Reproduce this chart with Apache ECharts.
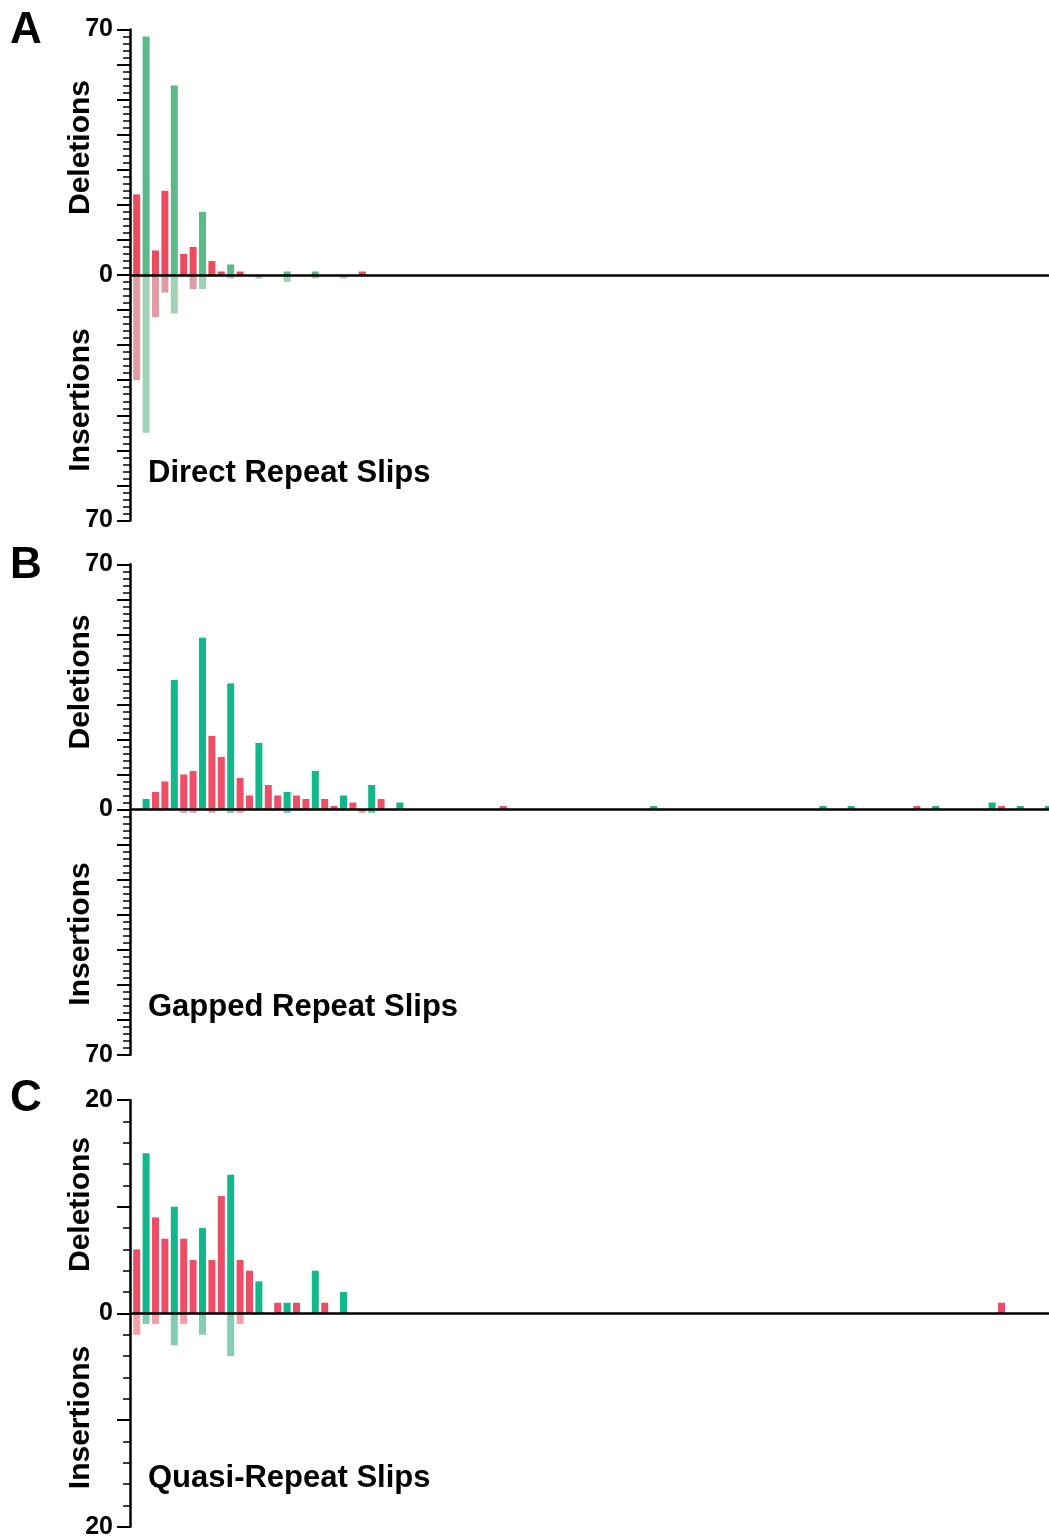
<!DOCTYPE html>
<html>
<head>
<meta charset="utf-8">
<script src="https://cdn.jsdelivr.net/npm/echarts@6/dist/echarts.min.js"></script>
<style>
  html, body { margin: 0; padding: 0; background: #fff; }
  #main { width: 1049px; height: 1539px; }
</style>
</head>
<body>
<div id="main"></div>
<script>
// slip length categories (2..101 nt), labels are not shown
const categories = [];
for (let n = 2; n <= 101; n++) categories.push(String(n));

// A: direct repeat slips
const directDeletions = [
  23, 68, 7, 24, 54, 6, 8, 18, 4, 1,
  3, 1, 0, 0, 0, 0, 1, 0, 0, 1,
  0, 0, 0, 0, 1
];
const directInsertions = [
  30, 45, 12, 5, 11, 0, 4, 4, 0, 0,
  1, 0, 0, 1, 0, 0, 2, 0, 0, 1,
  0, 0, 1
];

// B: gapped repeat slips
const gappedDeletions = [
  0, 3, 5, 8, 37, 10, 11, 49, 21, 15,
  36, 9, 4, 19, 7, 4, 5, 4, 3, 11,
  3, 1, 4, 2, 0, 7, 3, 0, 2, 0,
  0, 0, 0, 0, 0, 0, 0, 0, 0, 1,
  0, 0, 0, 0, 0, 0, 0, 0, 0, 0,
  0, 0, 0, 0, 0, 1, 0, 0, 0, 0,
  0, 0, 0, 0, 0, 0, 0, 0, 0, 0,
  0, 0, 0, 1, 0, 0, 1, 0, 0, 0,
  0, 0, 0, 1, 0, 1, 0, 0, 0, 0,
  0, 2, 1, 0, 1, 0, 0, 1, 0, 0
];
const gappedInsertions = [
  0, 0, 0, 0, 0, 1, 1, 0, 1, 0,
  1, 1, 0, 0, 0, 0, 1, 0, 0, 0,
  0, 0, 0, 0, 1, 1
];

// C: quasi-repeat slips
const quasiDeletions = [
  6, 15, 9, 7, 10, 7, 5, 8, 5, 11,
  13, 5, 4, 3, 0, 1, 1, 1, 0, 4,
  1, 0, 2, 0, 0, 0, 0, 0, 0, 0,
  0, 0, 0, 0, 0, 0, 0, 0, 0, 0,
  0, 0, 0, 0, 0, 0, 0, 0, 0, 0,
  0, 0, 0, 0, 0, 0, 0, 0, 0, 0,
  0, 0, 0, 0, 0, 0, 0, 0, 0, 0,
  0, 0, 0, 0, 0, 0, 0, 0, 0, 0,
  0, 0, 0, 0, 0, 0, 0, 0, 0, 0,
  0, 0, 1
];
const quasiInsertions = [2, 1, 1, 0, 3, 1, 0, 2, 0, 0, 4, 1];

const panels = [
  { letter: 'A', title: 'Direct Repeat Slips', del: directDeletions, ins: directInsertions,
    max: 70, top: 29.5, height: 491,
    colors: { red: '#EE4A5E', green: '#5BB98A', redL: '#DF9CA4', greenL: '#A0D2B8' } },
  { letter: 'B', title: 'Gapped Repeat Slips', del: gappedDeletions, ins: gappedInsertions,
    max: 70, top: 564.3, height: 490.4,
    colors: { red: '#EF4E66', green: '#12B88B', redL: '#F4A5B0', greenL: '#7FCDB5' } },
  { letter: 'C', title: 'Quasi-Repeat Slips', del: quasiDeletions, ins: quasiInsertions,
    max: 20, top: 1100, height: 426.8,
    colors: { red: '#EF4D65', green: '#12B88C', redL: '#F4A0A6', greenL: '#82CDB5' } }
];

const FONT = '"Liberation Sans", Arial, Helvetica, sans-serif';
const grids = [], xAxes = [], yAxes = [], series = [], texts = [];

panels.forEach((p, i) => {
  // grid runs past the right edge of the page, like the original
  grids.push({ left: 132, top: p.top, width: 940, height: p.height,
    containLabel: false, outerBoundsMode: 'none' });
  xAxes.push({
    type: 'category', gridIndex: i, data: categories, z: 5,
    axisLine: { onZero: true, lineStyle: { color: '#000', width: 2.5 } },
    axisTick: { show: false }, axisLabel: { show: false }, splitLine: { show: false }
  });
  yAxes.push({
    type: 'value', gridIndex: i, min: -p.max, max: p.max, interval: 10, offset: 2,
    axisLine: { show: true, lineStyle: { color: '#000', width: 2.5 } },
    axisTick: { show: true, length: 13, lineStyle: { color: '#000', width: 2 } },
    minorTick: { show: true, splitNumber: 5, length: 7, lineStyle: { color: '#000', width: 1.5 } },
    splitLine: { show: false },
    axisLabel: {
      margin: 17, color: '#000', fontFamily: FONT, fontWeight: 'bold', fontSize: 25,
      formatter: v => (Math.abs(v) === p.max || v === 0) ? String(Math.abs(v)) : ''
    }
  });
  const c = p.colors;
  series.push({
    type: 'bar', xAxisIndex: i, yAxisIndex: i, barWidth: 7, barGap: '-100%',
    data: p.del,
    itemStyle: { color: d => d.dataIndex % 3 === 1 ? c.green : c.red }
  });
  series.push({
    type: 'bar', xAxisIndex: i, yAxisIndex: i, barWidth: 7, barGap: '-100%',
    data: p.ins.map(v => -v),
    itemStyle: { color: d => d.dataIndex % 3 === 1 ? c.greenL : c.redL }
  });
});

// panel letters, half-axis names and titles
const letterY = [31, 565.5, 1098.5];
const delY = [147.5, 682, 1204.5];
const insY = [400, 934, 1417.5];
const titleY = [473, 1007, 1478];
panels.forEach((p, i) => {
  texts.push({ type: 'text', x: 10, y: letterY[i],
    style: { text: p.letter, font: 'bold 44px ' + FONT, fill: '#000',
      align: 'left', verticalAlign: 'middle', textAlign: 'left', textVerticalAlign: 'middle' } });
  texts.push({ type: 'text', x: 81, y: delY[i], rotation: Math.PI / 2,
    style: { text: 'Deletions', font: 'bold 30px ' + FONT, fill: '#000',
      align: 'center', verticalAlign: 'middle', textAlign: 'center', textVerticalAlign: 'middle' } });
  texts.push({ type: 'text', x: 81, y: insY[i], rotation: Math.PI / 2,
    style: { text: 'Insertions', font: 'bold 30px ' + FONT, fill: '#000',
      align: 'center', verticalAlign: 'middle', textAlign: 'center', textVerticalAlign: 'middle' } });
  texts.push({ type: 'text', x: 148, y: titleY[i],
    style: { text: p.title, font: 'bold 31px ' + FONT, fill: '#000',
      align: 'left', verticalAlign: 'middle', textAlign: 'left', textVerticalAlign: 'middle' } });
});

const chart = echarts.init(document.getElementById('main'));
chart.setOption({
  animation: false,
  backgroundColor: '#fff',
  grid: grids,
  xAxis: xAxes,
  yAxis: yAxes,
  series: series,
  graphic: texts
});
</script>
</body>
</html>
